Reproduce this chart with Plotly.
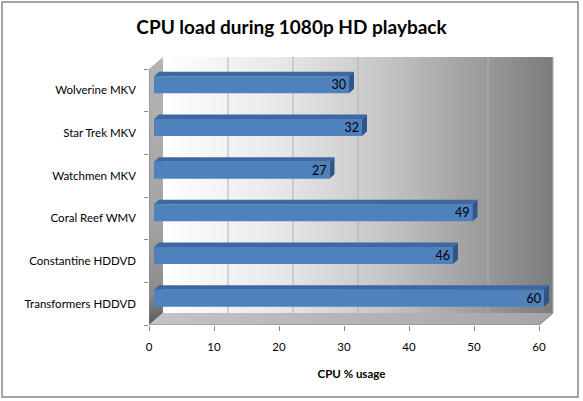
import plotly.graph_objects as go

# data, bottom row first
categories = ["Transformers HDDVD", "Constantine HDDVD", "Coral Reef WMV",
              "Watchmen MKV", "Star Trek MKV", "Wolverine MKV"]
cpu_usage = [60, 46, 49, 27, 32, 30]
x_ticks = [0, 10, 20, 30, 40, 50, 60]

W, H = 583, 401
# front plane of the 3d box, in pixels
PX_L, PX_R = 149, 554
PY_T, PY_B = 56, 325
X_MAX = x_ticks[-1]
PPX = (539 - PX_L) / X_MAX
PPY = (PY_B - 69) / len(categories)
x_range = [0, (PX_R - PX_L) / PPX]
y_range = [-0.5, -0.5 + (PY_B - PY_T) / PPY]
Y_TOP = len(categories) - 0.5
DX, DY = 14 / PPX, 12 / PPY      # wall depth
BDX, BDY = 5 / PPX, 4.5 / PPY    # bar depth
BAR_W = 17 / PPY
BAR_SHIFT = 5.5 / PPY

rows = list(range(len(categories)))
AXIS_GREY = "#868686"

fig = go.Figure()

# back wall with gradient
fig.add_trace(go.Scatter(
    x=[DX, X_MAX + DX, X_MAX + DX, DX, DX],
    y=[-0.5 + DY, -0.5 + DY, Y_TOP + DY, Y_TOP + DY, -0.5 + DY],
    mode="lines", fill="toself", line=dict(width=0),
    fillgradient=dict(type="horizontal", colorscale=[
        [0, "#ffffff"], [0.3, "#e8e8e8"], [0.55, "#c8c8c8"],
        [0.8, "#9e9e9e"], [1, "#7c7c7c"]]),
    hoverinfo="skip", showlegend=False))

# gridlines on the wall and floor
gx, gy = [], []
for t in x_ticks[1:]:
    gx += [t + DX, t + DX, None, t, t + DX, None]
    gy += [-0.5 + DY, Y_TOP + DY, None, -0.5, -0.5 + DY, None]
fig.add_trace(go.Scatter(x=gx, y=gy, mode="lines",
                         line=dict(color="#b2b2b2", width=1),
                         hoverinfo="skip", showlegend=False))

# left side wall
fig.add_trace(go.Scatter(
    x=[0, 0, DX, DX, 0], y=[-0.5, Y_TOP, Y_TOP + DY, -0.5 + DY, -0.5],
    mode="lines", fill="toself", line=dict(width=0),
    fillgradient=dict(type="vertical", colorscale=[
        [0, "#5a5a5a"], [0.12, "#8c8c8c"], [0.4, "#a4a4a4"], [1, "#b4b4b4"]]),
    hoverinfo="skip", showlegend=False))

# floor
fig.add_trace(go.Scatter(
    x=[0, X_MAX, X_MAX + DX, DX, 0], y=[-0.5, -0.5, -0.5 + DY, -0.5 + DY, -0.5],
    mode="lines", fill="toself", line=dict(width=0),
    fillgradient=dict(type="horizontal", colorscale=[
        [0, "#c4c4c4"], [1, "#a6a6a6"]]),
    hoverinfo="skip", showlegend=False))

# axis outlines
fig.add_trace(go.Scatter(
    x=[0, 0, X_MAX, X_MAX + DX], y=[Y_TOP, -0.5, -0.5, -0.5 + DY],
    mode="lines", line=dict(color=AXIS_GREY, width=1),
    hoverinfo="skip", showlegend=False))

# bars, on an overlaid subplot so they sit above the walls
bar_y = [r + BAR_SHIFT for r in rows]
fig.add_trace(go.Bar(
    orientation="h", y=bar_y, x=cpu_usage, base=BDX, width=BAR_W,
    marker=dict(color="#4f81bd", line=dict(width=0)),
    text=cpu_usage, textposition="inside", insidetextanchor="end",
    textangle=0, constraintext="none",
    textfont=dict(size=12.5, color="#000000", family="Lato"),
    xaxis="x2", yaxis="y2", hoverinfo="skip", showlegend=False))

tx, ty, sx, sy = [], [], [], []
for yc, v in zip(bar_y, cpu_usage):
    y0, y1 = yc + BAR_W / 2, yc - BAR_W / 2
    x1 = BDX + v
    tx += [BDX, x1, x1 + BDX, 2 * BDX, BDX, None]
    ty += [y0, y0, y0 + BDY, y0 + BDY, y0, None]
    sx += [x1, x1, x1 + BDX, x1 + BDX, x1, None]
    sy += [y0, y1, y1 + BDY, y0 + BDY, y0, None]
fig.add_trace(go.Scatter(x=tx, y=ty, mode="lines", fill="toself",
                         fillcolor="#3f68a0", line=dict(width=0),
                         xaxis="x2", yaxis="y2", hoverinfo="skip", showlegend=False))
fig.add_trace(go.Scatter(x=sx, y=sy, mode="lines", fill="toself",
                         fillcolor="#2f5689", line=dict(width=0),
                         xaxis="x2", yaxis="y2", hoverinfo="skip", showlegend=False))

# chart border, in paper coords
pw, ph = PX_R - PX_L, PY_B - PY_T
fig.add_shape(type="rect", xref="paper", yref="paper",
              x0=(2 - PX_L) / pw, x1=(578 - PX_L) / pw,
              y0=(PY_B - 397) / ph, y1=(PY_B - 2) / ph,
              line=dict(color=AXIS_GREY, width=1.5), layer="below")

fig.update_layout(
    width=W, height=H, autosize=False,
    margin=dict(l=PX_L, r=W - PX_R, t=PY_T, b=H - PY_B, pad=0),
    paper_bgcolor="white", plot_bgcolor="rgba(0,0,0,0)",
    font=dict(family="Lato", size=11.5, color="#000000"),
    title=dict(text="<b>CPU load during 1080p HD playback</b>",
               x=0.5, xref="container", xanchor="center",
               y=1 - 27 / H, yref="container", yanchor="middle",
               font=dict(size=19, color="#000000")),
    xaxis=dict(range=x_range, tickvals=x_ticks, ticks="outside", ticklen=5,
               tickcolor=AXIS_GREY, showgrid=False, zeroline=False, showline=False,
               ticklabelstandoff=6,
               title=dict(text="<b>CPU % usage</b>", standoff=18,
                          font=dict(size=11.5))),
    yaxis=dict(range=y_range, tickvals=rows, ticktext=categories, ticks="",
               showgrid=False, zeroline=False, showline=False,
               ticklabelstandoff=12,
               minor=dict(tickvals=[r - 0.5 for r in rows] + [Y_TOP],
                          ticks="outside", ticklen=4, tickcolor=AXIS_GREY)),
    xaxis2=dict(range=x_range, overlaying="x", visible=False),
    yaxis2=dict(range=y_range, overlaying="y", visible=False),
)

# the page's default body margin would shift the chart by 8px
fig.write_html("out.html", config={"displayModeBar": False},
               post_script="document.body.style.margin = '0';")
